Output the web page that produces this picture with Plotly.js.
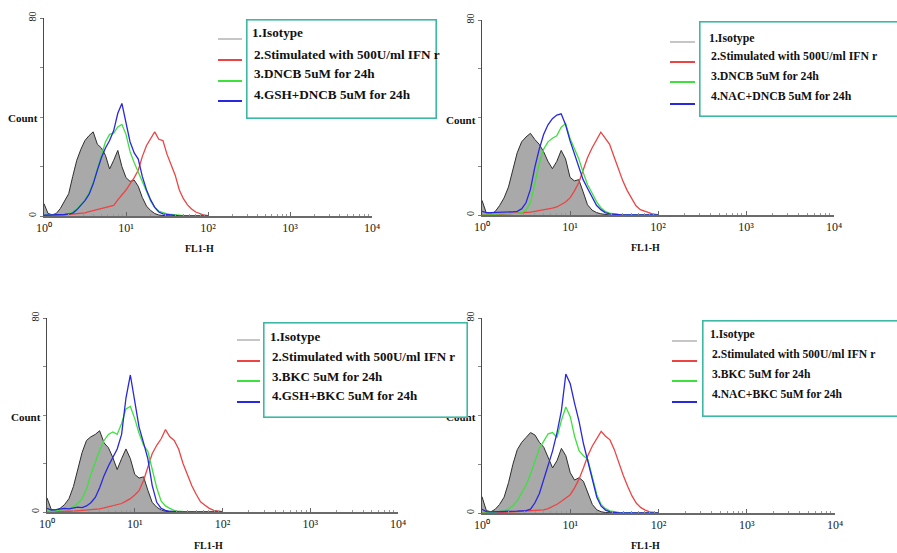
<!DOCTYPE html>
<html><head><meta charset="utf-8">
<script src="https://cdn.plot.ly/plotly-3.0.1.min.js"></script>
<style>html,body{margin:0;padding:0;background:#fff;} #chart{width:897px;height:553px;}</style>
</head><body><div id="chart"></div>
<script>
// FL1-H channel values (shared histogram bins)
const FL1_BINS = [1.00,1.12,1.26,1.41,1.58,1.78,2.00,2.24,2.51,2.82,3.16,3.55,3.98,4.47,5.01,5.62,6.31,7.08,7.94,8.91,10.0,11.2,12.6,14.1,15.8,17.8,20.0,22.4,25.1,28.2,31.6,35.5,39.8,44.7,50.1,56.2,63.1,70.8,79.4,89.1,100];

const X_TICK_VALUES = [1,10,100,1000,10000];
const X_TICK_LABELS = ['10\u2070','10\u00B9','10\u00B2','10\u00B3','10\u2074'];
const Y_TICK_VALUES = [0,80];
const Y_TICK_LABELS = ['0','80'];
const Y_MINOR_TICKS = [20,40,60];
const X_TITLE = 'FL1-H';
const Y_TITLE = 'Count';

// Panel 1 : GSH + DNCB
const LEGEND_P1 = ['1.Isotype','2.Stimulated with 500U/ml IFN r','3.DNCB 5uM for 24h','4.GSH+DNCB 5uM for 24h'];
const ISO_P1  = [5,1,0.5,1,3,6,9,16,22.5,27,30.5,32.5,34,29,27.5,24.5,19,22.5,26.5,20,15.5,14,14.5,12,7.5,4,2.2,1,0.4,0.2,0,0,0,0,0,0,0,0,0,0,0];
const IFN_P1  = [0,0,0,0,0.3,0.5,0.7,0.8,1,1.1,1.3,1.8,2.2,2.6,3.2,3.7,4,4.3,6.5,8.5,10.5,13,15.5,18.5,24,28.5,31.5,34,31,30.5,25,21,16.5,10.5,7,4.5,2.8,1.6,0.9,0.4,0.1];
const DRUG_P1 = [0.3,0.3,0.3,0.4,0.5,0.7,1,1.5,2.8,4.5,6.5,9.5,13.5,19,25,30,33,33.5,36,37,33,26,21.5,17.5,14,10,6,3.5,2,1.3,0.9,0.6,0.4,0.2,0,0,0,0,0,0,0];
const ANTI_P1 = [0.3,0.3,0.3,0.4,0.5,0.6,0.8,1.2,2.5,4.3,6.2,8.8,13,18.5,23.5,27.5,30.5,34.5,41.5,45.5,37.5,30,25.5,23,16,10.5,6.5,3.5,1.6,0.9,0.6,0.3,0.2,0,0,0,0,0,0,0,0];

// Panel 2 : NAC + DNCB
const LEGEND_P2 = ['1.Isotype','2.Stimulated with 500U/ml IFN r','3.DNCB 5uM for 24h','4.NAC+DNCB 5uM for 24h'];
const ISO_P2  = [6,0.8,0.5,1.4,3.8,7,11.5,18,25.5,30,32,33.5,31,29,26,22,19,22,26.5,23,15.5,14,14.5,9.5,4.2,2,1,0.5,0.2,0,0,0,0,0,0,0,0,0,0,0,0];
const IFN_P2  = [0,0,0,0,0.2,0.4,0.5,0.7,0.8,0.9,1,1.2,1.5,1.8,2,2.4,2.8,3.3,4.2,5.3,7,9.8,13.3,18.5,23.5,27.5,31,34,31.5,29,24,18.5,14,10,6.6,3.8,2.2,1.5,0.9,0.3,0.1];
const DRUG_P2 = [0.5,0.4,0.4,0.4,0.5,0.5,0.5,0.5,0.7,1,2,5,12.5,21,27,30,31.5,32.5,36,37.5,31.5,27,23,17.5,12.5,9,5.5,3,1.5,0.8,0.4,0.2,0,0,0,0,0,0,0,0,0];
const ANTI_P2 = [1.5,1,1,1,1.2,1.3,1.2,1.3,1.5,2.5,5,10.5,19.5,27,33,37,39.5,41,41.5,37,30.5,25,19.5,14.5,11,7.5,4,2.2,1,0.5,0.3,0.1,0,0,0,0,0,0,0,0,0];

// Panel 3 : GSH + BKC
const LEGEND_P3 = ['1.Isotype','2.Stimulated with 500U/ml IFN r','3.BKC 5uM for 24h','4.GSH+BKC 5uM for 24h'];
const ISO_P3  = [5.8,1,0.8,1.5,3,5.5,10.5,18,24.5,29.5,31,32,33.5,28.5,26.5,22.5,17.5,22,26,22,15.5,14,14.5,9,4,2,0.8,0.3,0,0,0,0,0,0,0,0,0,0,0,0,0];
const IFN_P3  = [0,0,0,0,0.2,0.3,0.4,0.5,0.6,0.7,0.8,1,1.3,1.7,2.1,2.6,3,3.5,4.5,5.5,7,8.8,13,19,24,27.5,30.2,34,31,29.5,26,20,15.5,10.8,7.3,4.2,2.8,1.5,0.7,0.3,0.1];
const DRUG_P3 = [0.5,0.3,0.5,0.8,1,1.5,2.2,3.5,5.5,9.5,15.5,20.5,25.5,29.5,32,33,32,36.5,42.5,43.5,38.5,32.5,27.5,25,18,10,4.5,2.5,1.5,0.7,0.3,0,0,0,0,0,0,0,0,0,0];
const ANTI_P3 = [1.5,0.8,1,1.2,1.5,1.3,1.6,2,1.8,2.5,3.8,6,10,15,19,22.5,26,32,47,56.5,45.5,35,28.5,22,11,4,1.5,0.7,0.3,0,0,0,0,0,0,0,0,0,0,0,0];

// Panel 4 : NAC + BKC
const LEGEND_P4 = ['1.Isotype','2.Stimulated with 500U/ml IFN r','3.BKC 5uM for 24h','4.NAC+BKC 5uM for 24h'];
const ISO_P4  = [6.7,1,0.5,1.5,3.5,6.5,12.5,20,26,29,31,33,32,29,27,23,18.5,21.5,26.5,23.5,16.5,13.5,14.5,13,8,3.5,1.3,0.5,0.2,0,0,0,0,0,0,0,0,0,0,0,0];
const IFN_P4  = [0,0,0,0,0.2,0.3,0.4,0.5,0.6,0.7,0.8,0.9,1,1.1,1.3,1.8,2.6,3.6,4.8,6,7.5,10.3,14,18.5,23.5,27.5,30.5,33.5,31.5,30,26,20.5,15.5,11,7,4,2.2,1.2,0.5,0.2,0.1];
const DRUG_P4 = [0.5,0.3,0.3,0.4,0.6,0.9,1.7,3,5,8.5,11.5,16,21.5,26.5,29.5,32.5,33,31,38,43.5,39.5,31.5,25.5,23.5,22,14,7.5,3.5,1.8,0.9,0.4,0.2,0,0,0,0,0,0,0,0,0];
const ANTI_P4 = [1.5,0.6,0.5,0.5,0.6,0.6,0.7,0.8,0.8,0.9,1,1.6,4.2,8,13.5,19.5,25.5,33,42,57,53,45,37.5,28.5,21.5,13.5,6.5,2.8,1.2,0.5,0.2,0,0,0,0,0,0,0,0,0,0];

// ---------- styling / layout (pixel positions) ----------
const W = 897, H = 553;
const fx = p => p / W;
const fy = p => 1 - p / H;
const COLORS = {iso:'#c6c6c6', isoFill:'#a9a9a9', isoLine:'#2e2e2e', ifn:'#ec4444', drug:'#3ee03e', anti:'#2828e0', box:'#3cb8a4'};
const SERIF = 'Liberation Serif, Times New Roman, serif';

const panels = [
  {iso:ISO_P1, ifn:IFN_P1, drug:DRUG_P1, anti:ANTI_P1, legend:LEGEND_P1,
   xPix:[44,372], yPix:[18,216], box:[246,19,437,119], textX:252, textY:[34,54,74,94], textSize:13.2,
   sample:[218,242], sampleY:[39,60,81,101], count:[23,118], xt:[199,248]},
  {iso:ISO_P2, ifn:IFN_P2, drug:DRUG_P2, anti:ANTI_P2, legend:LEGEND_P2,
   xPix:[482,834], yPix:[20,215], box:[699,21,912,117], textX:709, textY:[36,56,76,96], textSize:11.8,
   sample:[670,695], sampleY:[42,62,82,104], count:[461,120], xt:[645,247]},
  {iso:ISO_P3, ifn:IFN_P3, drug:DRUG_P3, anti:ANTI_P3, legend:LEGEND_P3,
   xPix:[47,398], yPix:[318,512], box:[263,322,468,418], textX:270, textY:[336,356,376,396], textSize:13,
   sample:[237,260], sampleY:[340,361,381,402], count:[26,417], xt:[208,545]},
  {iso:ISO_P4, ifn:IFN_P4, drug:DRUG_P4, anti:ANTI_P4, legend:LEGEND_P4,
   xPix:[482,835], yPix:[318,513], box:[702,320,912,417], textX:710, textY:[334,354,374,394], textSize:11.6,
   sample:[672,697], sampleY:[341,361,381,402], count:[461,417], xt:[645,545]}
];

const minorVals = [];
for (let d = 0; d < 4; d++) for (let k = 2; k <= 9; k++) minorVals.push(k * Math.pow(10, d));

const traces = [];
const layout = {
  width: W, height: H, autosize: false,
  margin: {l:0, r:0, t:0, b:0},
  paper_bgcolor: '#ffffff', plot_bgcolor: '#ffffff',
  showlegend: false,
  annotations: [], shapes: []
};

panels.forEach((p, i) => {
  const s = i === 0 ? '' : String(i + 1);
  const xa = 'x' + s, ya = 'y' + s;
  traces.push({x: FL1_BINS, y: p.iso, type:'scatter', mode:'lines', xaxis:xa, yaxis:ya,
    fill:'tozeroy', fillcolor: COLORS.isoFill, line:{color: COLORS.isoLine, width:1}, hoverinfo:'skip'});
  traces.push({x: FL1_BINS, y: p.ifn, type:'scatter', mode:'lines', xaxis:xa, yaxis:ya,
    line:{color: COLORS.ifn, width:1.3}, hoverinfo:'skip'});
  traces.push({x: FL1_BINS, y: p.drug, type:'scatter', mode:'lines', xaxis:xa, yaxis:ya,
    line:{color: COLORS.drug, width:1.3}, hoverinfo:'skip'});
  traces.push({x: FL1_BINS, y: p.anti, type:'scatter', mode:'lines', xaxis:xa, yaxis:ya,
    line:{color: COLORS.anti, width:1.3}, hoverinfo:'skip'});

  layout['xaxis' + s] = {
    type:'log', range:[0,4], domain:[fx(p.xPix[0]), fx(p.xPix[1])], anchor: ya,
    tickmode:'array', tickvals: X_TICK_VALUES, ticktext: X_TICK_LABELS,
    ticks:'inside', ticklen:4, tickcolor:'#666', tickwidth:1,
    minor:{tickmode:'array', tickvals: minorVals, ticks:'inside', ticklen:2, tickcolor:'#999', showgrid:false},
    showline:true, linecolor:'#6a6a6a', linewidth:1.5, showgrid:false, zeroline:false,
    tickfont:{family: SERIF, size:12, color:'#222'}, fixedrange:true
  };
  layout['yaxis' + s] = {
    range:[0,80], domain:[fy(p.yPix[1]), fy(p.yPix[0])], anchor: xa,
    tickmode:'array', tickvals: Y_TICK_VALUES, ticktext: Y_TICK_LABELS, tickangle:-90,
    ticks:'outside', ticklen:3, tickcolor:'#777', tickwidth:1,
    minor:{tickmode:'array', tickvals: Y_MINOR_TICKS, ticks:'outside', ticklen:3, tickcolor:'#888', showgrid:false},
    showline:true, linecolor:'#4a4a4a', linewidth:1.5, showgrid:false, zeroline:false,
    tickfont:{family: SERIF, size:10, color:'#222'}, fixedrange:true
  };

  // axis titles as text annotations
  layout.annotations.push({xref:'paper', yref:'paper', x: fx(p.count[0]), y: fy(p.count[1]),
    xanchor:'center', yanchor:'middle', showarrow:false,
    text:'<b>' + Y_TITLE + '</b>', font:{family: SERIF, size:11, color:'#111'}});
  layout.annotations.push({xref:'paper', yref:'paper', x: fx(p.xt[0]), y: fy(p.xt[1]),
    xanchor:'center', yanchor:'middle', showarrow:false,
    text:'<b>' + X_TITLE + '</b>', font:{family: SERIF, size:10, color:'#111'}});
});

// legend boxes, each holding its first entry (drawn after axis titles so they cover them where overlapping)
const BOX_BORDER = 1.6;
panels.forEach(p => {
  const [x0, y0, x1, y1] = p.box;
  const pad = p.textX - x0 - BOX_BORDER;
  layout.annotations.push({xref:'paper', yref:'paper', x: fx(x0), y: fy(y0),
    xanchor:'left', yanchor:'top', showarrow:false,
    text:'<b>' + p.legend[0] + '</b>', align:'left', valign:'top',
    font:{family: SERIF, size: p.textSize, color:'#111'},
    width: x1 - x0 - 2 * pad - 2 * BOX_BORDER, height: y1 - y0 - 2 * pad - 2 * BOX_BORDER,
    borderpad: pad, bgcolor:'#ffffff', bordercolor: COLORS.box, borderwidth: BOX_BORDER});
});

// remaining legend entries and the sample lines
const sampleColors = [COLORS.iso, COLORS.ifn, COLORS.drug, COLORS.anti];
panels.forEach(p => {
  p.legend.forEach((label, k) => {
    if (k > 0) {
      layout.annotations.push({xref:'paper', yref:'paper', x: fx(p.textX), y: fy(p.textY[k]),
        xanchor:'left', yanchor:'middle', showarrow:false,
        text:'<b>' + label + '</b>', font:{family: SERIF, size: p.textSize, color:'#111'}});
    }
    layout.shapes.push({type:'line', xref:'paper', yref:'paper', layer:'above',
      x0: fx(p.sample[0]), x1: fx(p.sample[1]), y0: fy(p.sampleY[k]), y1: fy(p.sampleY[k]),
      line:{color: sampleColors[k], width:2}});
  });
});

Plotly.newPlot('chart', traces, layout, {staticPlot:true, displayModeBar:false});
</script>
</body></html>
